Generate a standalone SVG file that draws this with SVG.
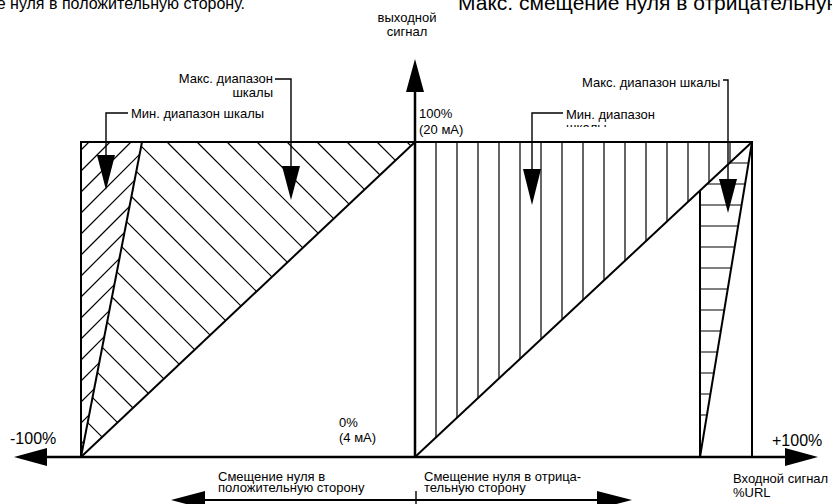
<svg xmlns="http://www.w3.org/2000/svg" width="832" height="504" viewBox="0 0 832 504">
<style>
text{font-family:"Liberation Sans",Arial,sans-serif;fill:#000}
.s{font-size:13px}
.b{font-size:16px}
.t{font-size:21px}
.box{stroke:#000;stroke-width:2;fill:none}
.ax{stroke:#000;stroke-width:2.5;fill:none}
.h{stroke:#000;stroke-width:1.2;fill:none}
.ld{stroke:#000;stroke-width:1.4;fill:none}
.ah{fill:#000;stroke:none}
</style>
<defs>
<clipPath id="cl"><rect x="500" y="100" width="200" height="27"/></clipPath>
</defs>
<rect width="832" height="504" fill="#fff"/>
<text class="t" x="245" y="9" text-anchor="end" style="font-size:16px">ение нуля в положительную сторону.</text>
<text class="t" x="458" y="10">Макс. смещение нуля в отрицательную сторону.</text>
<g id="hatch-left-narrow" class="h">
<path d="M81 150L89 142M81 171L110 142M81 192L131 142M81 213L139.6 154.4M81 234L134.6 180.4M81 255L129.5 206.5M81 276L124.5 232.5M81 297L119.4 258.6M81 318L114.4 284.6M81 339L109.3 310.7M81 360L104.3 336.7M81 381L99.3 362.7M81 402L94.2 388.8M81 423L89.2 414.8M81 444L84.1 440.9"/>
</g>
<g id="hatch-left-wide" class="h">
<path d="M407 142L410.9 145.9M377 142L395.4 160.4M347 142L380 175M317 142L364.6 189.6M287 142L349.1 204.1M257 142L333.7 218.7M227 142L318.3 233.3M197 142L302.8 247.8M167 142L287.4 262.4M141.2 146.2L271.9 276.9M136.3 171.3L256.5 291.5M131.5 196.5L241.1 306.1M126.6 221.6L225.6 320.6M121.7 246.7L210.2 335.2M116.9 271.9L194.8 349.8M112 297L179.3 364.3M107.2 322.2L163.9 378.9M102.3 347.3L148.5 393.5M97.4 372.4L133 408M92.6 397.6L117.6 422.6M87.7 422.7L102.2 437.2"/>
</g>
<g id="hatch-right-vertical" class="h">
<path d="M436 142V437.4M457 142V417.7M478 142V398.1M499 142V378.5M520 142V358.9M541 142V339.2M562 142V319.6M583 142V300M604 142V280.3M625 142V260.7M646 142V241.1M667 142V221.5M688 142V201.8M709 142V182.2M730 142V162.6"/>
</g>
<g id="hatch-right-horizontal" class="h">
<path d="M729.5 163H748.5M707.1 184H745.1M700 205H741.6M700 226H738.1M700 247H734.7M700 268H731.2M700 289H727.7M700 310H724.3M700 331H720.8M700 352H717.3M700 373H713.9M700 394H710.4M700 415H706.9"/>
</g>
<g id="curves" class="box">
<path d="M81 457V142H752V457"/>
<path d="M81 457L415 142"/>
<path d="M81 457L142 142"/>
<path d="M415 457L752 142"/>
<path d="M700 457L752 142"/>
<path d="M700 190.6V457"/>
</g>
<g id="axes">
<path class="ax" d="M40 457H790"/>
<polygon class="ah" points="14,457 47,448 47,466"/>
<polygon class="ah" points="818,457 785,448 785,466"/>
<path class="ax" d="M415 457V88"/>
<polygon class="ah" points="415,59 406,92 424,92"/>
</g>
<g id="connectors">
<polyline class="ld" points="128,113 106,113 106,156"/>
<polygon class="ah" points="97,155 115,155 106,190"/>
<polyline class="ld" points="275,79 291,79 291,167"/>
<polygon class="ah" points="282,166 300,166 291,200"/>
<polyline class="ld" points="563,113 532,113 532,170"/>
<polygon class="ah" points="523,169 541,169 532,205"/>
<polyline class="ld" points="723,80 728,80 728,180"/>
<polygon class="ah" points="719,179 737,179 728,213"/>
<path class="ax" d="M200 500H602" style="stroke-width:2"/>
<polygon class="ah" points="171,500 205,491 205,509"/>
<polygon class="ah" points="632,500 597,491 597,509"/>
<path class="ld" d="M416 491V504"/>
</g>
<g id="labels">
<text class="s" x="407" y="22" text-anchor="middle">выходной</text>
<text class="s" x="407" y="36" text-anchor="middle">сигнал</text>
<text class="s" x="131" y="118">Мин. диапазон шкалы</text>
<text class="s" x="273" y="83" text-anchor="end">Макс. диапазон</text>
<text class="s" x="273" y="97" text-anchor="end">шкалы</text>
<text class="s" x="566" y="119">Мин. диапазон</text>
<text class="s" x="566" y="132" clip-path="url(#cl)">шкалы</text>
<text class="s" x="582" y="87">Макс. диапазон шкалы</text>
<text class="s" x="419" y="118">100%</text>
<text class="s" x="419" y="134">(20 мА)</text>
<text class="s" x="339" y="427">0%</text>
<text class="s" x="339" y="442">(4 мА)</text>
<text class="b" x="10" y="444">-100%</text>
<text class="b" x="772" y="446">+100%</text>
<text class="s" x="733" y="483">Входной сигнал</text>
<text class="s" x="733" y="497">%URL</text>
<text class="s" x="218" y="481">Смещение нуля в</text>
<text class="s" x="218" y="492">положительную сторону</text>
<text class="s" x="424" y="481">Смещение нуля в отрица-</text>
<text class="s" x="424" y="492">тельную сторону</text>
</g>
</svg>
